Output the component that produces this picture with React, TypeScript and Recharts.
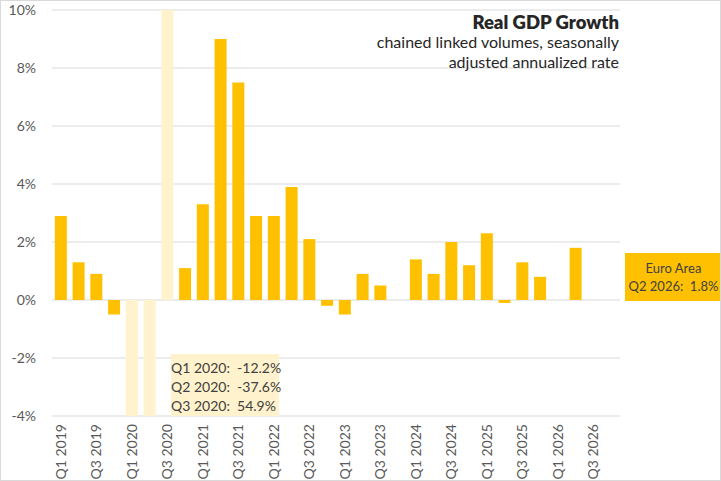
import { BarChart, Bar, XAxis, YAxis, CartesianGrid, Cell } from "recharts";

const quarters = [
  "Q1 2019", "Q2 2019", "Q3 2019", "Q4 2019",
  "Q1 2020", "Q2 2020", "Q3 2020", "Q4 2020",
  "Q1 2021", "Q2 2021", "Q3 2021", "Q4 2021",
  "Q1 2022", "Q2 2022", "Q3 2022", "Q4 2022",
  "Q1 2023", "Q2 2023", "Q3 2023", "Q4 2023",
  "Q1 2024", "Q2 2024", "Q3 2024", "Q4 2024",
  "Q1 2025", "Q2 2025", "Q3 2025", "Q4 2025",
  "Q1 2026", "Q2 2026", "Q3 2026", "Q4 2026",
];

// annualized q/q growth, %
const growth: (number | null)[] = [
  2.9, 1.3, 0.9, -0.5,
  -12.2, -37.6, 54.9, 1.1,
  3.3, 9.0, 7.5, 2.9,
  2.9, 3.9, 2.1, -0.2,
  -0.5, 0.9, 0.5, 0.0,
  1.4, 0.9, 2.0, 1.2,
  2.3, -0.1, 1.3, 0.8,
  null, 1.8, null, null,
];

const yTicks = [-4, -2, 0, 2, 4, 6, 8, 10];
const outlierQuarters = ["Q1 2020", "Q2 2020", "Q3 2020"];
const latestQuarter = "Q2 2026";
const regionName = "Euro Area";

const data = quarters.map((q, i) => ({ quarter: q, growth: growth[i] }));

const FONT = "Lato, 'Noto Sans', sans-serif";
const GOLD = "#FFC000";
const PALE = "#FFF2CC";
const TEXT = "#404040";

const fmt = (v: number | null) => (v == null ? "" : `${v.toFixed(1)}%`);

function QuarterTick(props: any) {
  const { x, y, payload } = props;
  return (
    <g transform={`translate(${x},${y})`}>
      <text
        transform="rotate(-90)"
        textAnchor="end"
        dy="0.36em"
        fill="#595959"
        fontSize={14}
        fontFamily={FONT}
      >
        {payload.value}
      </text>
    </g>
  );
}

export default function App() {
  const latestValue = growth[quarters.indexOf(latestQuarter)];
  return (
    <div
      style={{
        position: "absolute",
        left: 0,
        top: 0,
        width: 721,
        height: 481,
        boxSizing: "border-box",
        border: "1px solid #d9d9d9",
        background: "#fff",
        fontFamily: FONT,
        overflow: "hidden",
      }}
    >
      <BarChart
        width={721}
        height={481}
        data={data}
        margin={{ top: 10, right: 101, left: 0, bottom: 5 }}
        barCategoryGap="16%"
        style={{ position: "absolute", left: -1, top: -1 }}
      >
        <CartesianGrid vertical={false} stroke="#d9d9d9" />
        <XAxis
          dataKey="quarter"
          interval={1}
          tick={<QuarterTick />}
          tickLine={false}
          axisLine={false}
          height={60}
        />
        <YAxis
          domain={[-4, 10]}
          ticks={yTicks}
          allowDataOverflow
          tickFormatter={(v) => `${v}%`}
          tick={{ fontSize: 14, fill: "#595959", fontFamily: FONT }}
          tickLine={false}
          axisLine={false}
          tickMargin={10}
          width={52}
        />
        <Bar dataKey="growth" isAnimationActive={false}>
          {data.map((d) => (
            <Cell
              key={d.quarter}
              fill={outlierQuarters.includes(d.quarter) ? PALE : GOLD}
            />
          ))}
        </Bar>
      </BarChart>

      <div
        style={{
          position: "absolute",
          right: 101,
          top: 11,
          textAlign: "right",
          color: "#262626",
          lineHeight: "20px",
        }}
      >
        <div style={{ fontWeight: 800, fontSize: 18.5 }}>Real GDP Growth</div>
        <div style={{ fontSize: 16 }}>chained linked volumes, seasonally</div>
        <div style={{ fontSize: 16 }}>adjusted annualized rate</div>
      </div>

      <div
        style={{
          position: "absolute",
          left: 170,
          top: 353,
          width: 108,
          height: 62,
          boxSizing: "border-box",
          padding: "4px 6px 0 0",
          background: PALE,
          textAlign: "right",
          fontSize: 14,
          lineHeight: "19px",
          color: TEXT,
          whiteSpace: "pre",
        }}
      >
        {outlierQuarters.map((q) => (
          <div key={q}>{`${q}:  ${fmt(growth[quarters.indexOf(q)])}`}</div>
        ))}
      </div>

      <div
        style={{
          position: "absolute",
          left: 624,
          top: 252,
          width: 97,
          height: 48,
          boxSizing: "border-box",
          paddingTop: 6,
          background: GOLD,
          textAlign: "center",
          fontSize: 13,
          lineHeight: "18px",
          color: TEXT,
          whiteSpace: "pre",
        }}
      >
        <div>{regionName}</div>
        <div>{`${latestQuarter}:  ${fmt(latestValue)}`}</div>
      </div>
    </div>
  );
}
